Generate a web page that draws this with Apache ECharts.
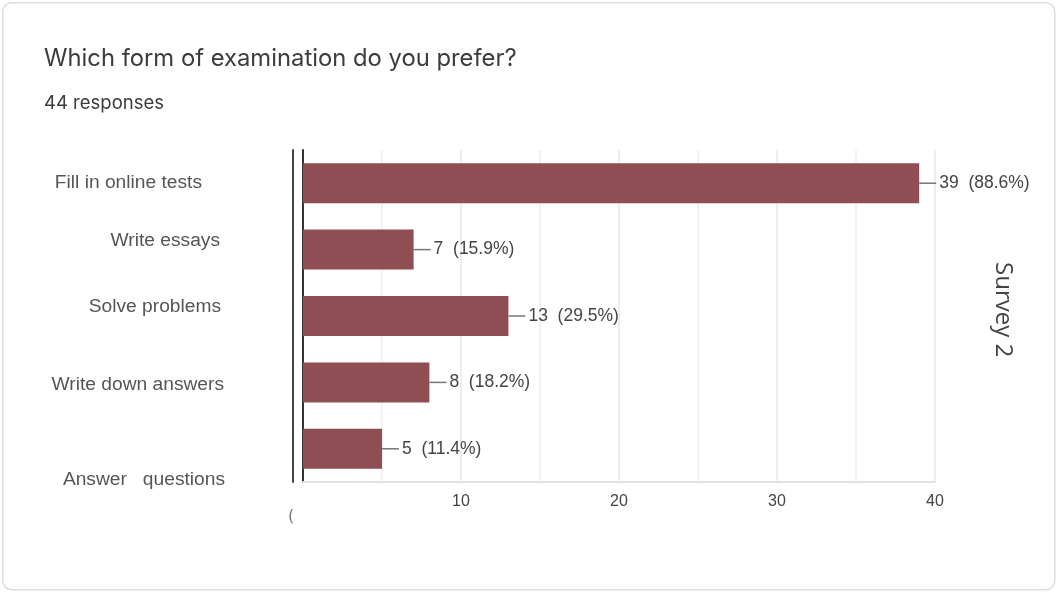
<!DOCTYPE html>
<html>
<head>
<meta charset="utf-8">
<title>Which form of examination do you prefer?</title>
<script src="https://cdn.jsdelivr.net/npm/echarts@6/dist/echarts.min.js"></script>
<style>
  html, body { margin: 0; padding: 0; background: #ffffff; }
  #chart { width: 1057px; height: 592px; }
</style>
</head>
<body>
<div id="chart"></div>
<script>
// Survey answers: how many respondents chose each exam format
const categories = ['Fill in online tests', 'Write essays', 'Solve problems', 'Write down answers', 'Answer   questions'];
const counts = [39, 7, 13, 8, 5];
const percents = ['88.6%', '15.9%', '29.5%', '18.2%', '11.4%'];
const totalResponses = 44;
const xTicks = [0, 10, 20, 30, 40];

// Per-label nudges for the category names: [shiftX (px, leftwards), shiftY (px, + = down)]
const labelNudge = [[23, 0], [5, -9], [4, -9], [1, 2], [0, 31]];

const chart = echarts.init(document.getElementById('chart'), null, { renderer: 'canvas' });

const catRich = {};
categories.forEach(function (c, i) {
  const nx = labelNudge[i][0], ny = labelNudge[i][1];
  catRich['c' + i] = {
    fontFamily: 'Liberation Sans, Arial, sans-serif',
    fontSize: 19.2,
    color: '#555555',
    padding: [ny > 0 ? ny * 2 : 0, nx, ny < 0 ? -ny * 2 : 0, 0]
  };
});

const option = {
  animation: false,
  backgroundColor: '#ffffff',
  title: [
    {
      text: 'Which form of examination do you prefer?',
      left: 39, top: 42,
      textStyle: { fontFamily: 'Inter, Open Sans, sans-serif', fontSize: 23.8, fontWeight: 'normal', color: '#3c3c3f' }
    },
    {
      text: totalResponses + ' responses',
      left: 39, top: 89,
      textStyle: { fontFamily: 'Inter, Open Sans, sans-serif', fontSize: 18.5, fontWeight: 'normal', color: '#3c3c3f' }
    }
  ],
  graphic: [
    {
      type: 'rect', left: 2, top: 2, z: -10,
      shape: { width: 1052, height: 587, r: 9 },
      style: { fill: '#ffffff', stroke: '#dcdde0', lineWidth: 1.5 }
    },
    {
      type: 'text', left: 991, top: 262, rotation: -Math.PI / 2,
      style: { text: 'Survey 2', fontFamily: 'Open Sans, sans-serif', fontSize: 24, fill: '#444444' }
    }
  ],
  grid: { left: 303, right: 122, top: 150, bottom: 110 },
  xAxis: {
    type: 'value',
    min: xTicks[0], max: xTicks[xTicks.length - 1], interval: 10,
    axisLine: { show: true, lineStyle: { color: '#e2e2e2', width: 2 } },
    axisTick: { show: false },
    minorTick: { show: false, splitNumber: 2 },
    splitLine: { show: true, lineStyle: { color: '#e9e9e9', width: 1.5 } },
    minorSplitLine: { show: true, lineStyle: { color: '#eeeeee', width: 1.5 } },
    axisLabel: {
      margin: 12,
      formatter: function (v) { return v === 0 ? '{z|(}' : '{n|' + v + '}'; },
      rich: {
        n: { fontFamily: 'Liberation Sans, Arial, sans-serif', fontSize: 16, color: '#444444' },
        z: { fontFamily: 'DejaVu Sans, sans-serif', fontSize: 16, color: '#777777', padding: [15, 24, 0, 0] }
      }
    }
  },
  yAxis: [
    {
      type: 'category',
      data: categories,
      inverse: true,
      axisLine: { show: true, lineStyle: { color: '#333333', width: 2 } },
      axisTick: { show: false },
      splitLine: { show: false },
      axisLabel: {
        margin: 78,
        formatter: function (v, i) { return '{c' + i + '|' + v + '}'; },
        rich: catRich
      }
    },
    {
      type: 'category',
      position: 'left',
      offset: 10,
      data: categories,
      inverse: true,
      axisLine: { show: true, lineStyle: { color: '#444444', width: 2 } },
      axisTick: { show: false },
      axisLabel: { show: false },
      splitLine: { show: false }
    }
  ],
  series: [
    {
      type: 'bar',
      data: counts,
      barWidth: 40,
      itemStyle: { color: '#8f4e54' },
      label: {
        show: true,
        position: 'right',
        distance: 0,
        formatter: function (p) {
          return '{ln|}{t|' + p.value + '  (' + percents[p.dataIndex] + ')}';
        },
        rich: {
          ln: { width: 17, height: 1.5, backgroundColor: '#777777', verticalAlign: 'middle' },
          t: { fontFamily: 'Liberation Sans, Arial, sans-serif', fontSize: 17.5, color: '#444444', padding: [0, 0, 0, 3], verticalAlign: 'middle' }
        }
      }
    }
  ]
};

chart.setOption(option);
</script>
</body>
</html>
